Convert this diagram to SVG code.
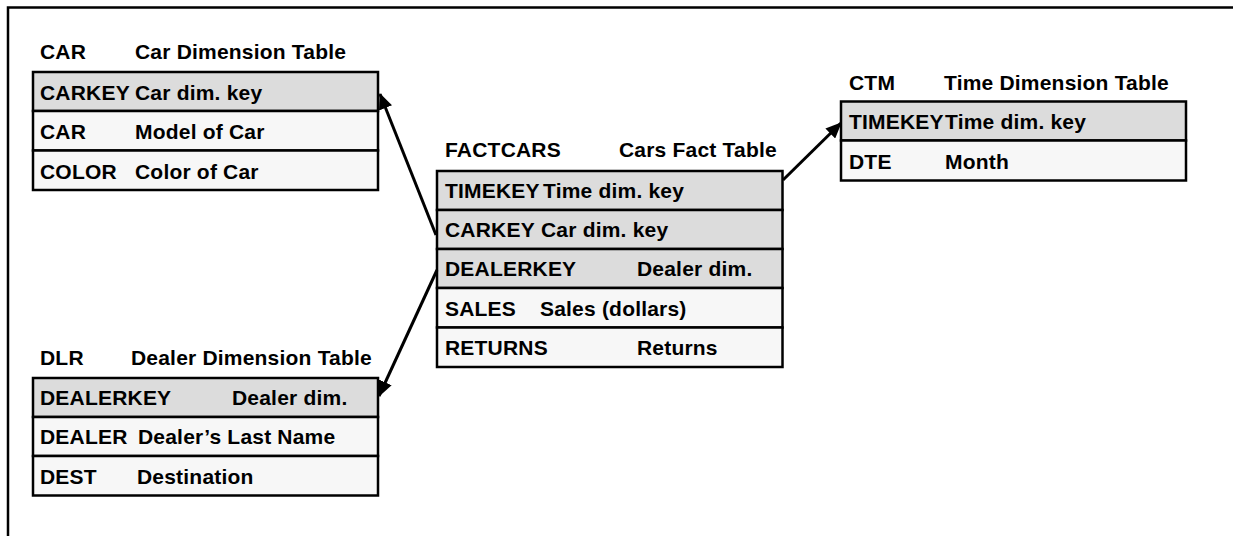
<svg xmlns="http://www.w3.org/2000/svg" width="1233" height="536" viewBox="0 0 1233 536">
<defs>
<style>
text{font-family:"Liberation Sans",Arial,sans-serif;font-weight:bold;font-size:21px;letter-spacing:0.2px;fill:#000}
.k{fill:#dcdcdc;stroke:#000;stroke-width:2.5}
.r{fill:#f7f7f7;stroke:#000;stroke-width:2.5}
.c{stroke:#000;stroke-width:3;fill:none;marker-end:url(#ah)}
</style>
<marker id="ah" markerUnits="userSpaceOnUse" markerWidth="16" markerHeight="14" refX="15" refY="7" orient="auto">
<path d="M0,0 L16,7 L0,14 Z" fill="#000"/>
</marker>
</defs>
<rect width="1233" height="536" fill="#fff"/>
<path d="M8,536 V7.5 H1233" fill="none" stroke="#000" stroke-width="2.5"/>

<g id="car">
<text x="40" y="59">CAR</text><text x="135" y="59">Car Dimension Table</text>
<rect class="k" x="33" y="72" width="345" height="39"/>
<rect class="r" x="33" y="111" width="345" height="39.5"/>
<rect class="r" x="33" y="150.5" width="345" height="39.5"/>
<text x="40" y="100">CARKEY</text><text x="135" y="100">Car dim. key</text>
<text x="40" y="139">CAR</text><text x="135" y="139">Model of Car</text>
<text x="40" y="178.5">COLOR</text><text x="135" y="178.5">Color of Car</text>
</g>

<g id="factcars">
<text x="445" y="157">FACTCARS</text><text x="619" y="157">Cars Fact Table</text>
<rect class="k" x="437" y="171" width="345.5" height="39"/>
<rect class="k" x="437" y="210" width="345.5" height="39"/>
<rect class="k" x="437" y="249" width="345.5" height="39"/>
<rect class="r" x="437" y="288" width="345.5" height="39.5"/>
<rect class="r" x="437" y="327.5" width="345.5" height="39.5"/>
<text x="445" y="198">TIMEKEY</text><text x="543" y="198">Time dim. key</text>
<text x="445" y="237">CARKEY</text><text x="541" y="237">Car dim. key</text>
<text x="445" y="276">DEALERKEY</text><text x="637" y="276">Dealer dim.</text>
<text x="445" y="315.5">SALES</text><text x="540" y="315.5">Sales (dollars)</text>
<text x="445" y="354.5">RETURNS</text><text x="637" y="354.5">Returns</text>
</g>

<g id="ctm">
<text x="849" y="89.5">CTM</text><text x="944" y="89.5">Time Dimension Table</text>
<rect class="k" x="841" y="101.5" width="345" height="39"/>
<rect class="r" x="841" y="140.5" width="345" height="40"/>
<text x="849" y="129">TIMEKEY</text><text x="945" y="129">Time dim. key</text>
<text x="849" y="168.5">DTE</text><text x="945" y="168.5">Month</text>
</g>

<g id="dlr">
<text x="40" y="365">DLR</text><text x="131" y="365">Dealer Dimension Table</text>
<rect class="k" x="33" y="378" width="345" height="39"/>
<rect class="r" x="33" y="417" width="345" height="39"/>
<rect class="r" x="33" y="456" width="345" height="39.5"/>
<text x="40" y="405">DEALERKEY</text><text x="232" y="405">Dealer dim.</text>
<text x="40" y="444">DEALER</text><text x="138" y="444">Dealer’s Last Name</text>
<text x="40" y="483.5">DEST</text><text x="137" y="483.5">Destination</text>
</g>

<g id="connectors">
<line class="c" x1="436" y1="235" x2="380" y2="94"/>
<line class="c" x1="437" y1="270" x2="379" y2="396"/>
<line class="c" x1="783" y1="180" x2="841" y2="123"/>
</g>
</svg>
